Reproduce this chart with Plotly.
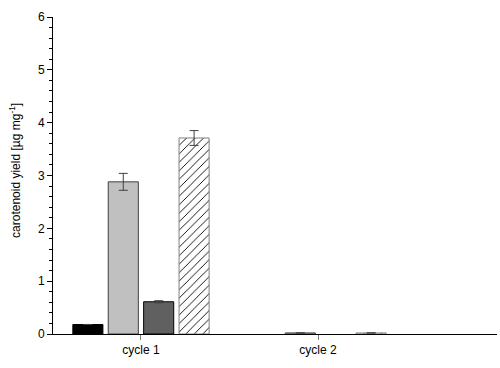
import plotly.graph_objects as go

categories = ["cycle 1", "cycle 2"]
values_a = [0.18, None]
values_b = [2.88, 0.02]
values_c = [0.61, None]
values_d = [3.71, 0.02]
err_a = [0.0, 0.0]
err_b = [0.16, 0.0]
err_c = [0.02, 0.0]
err_d = [0.14, 0.0]
y_ticks = [0, 1, 2, 3, 4, 5, 6]
y_title = "carotenoid yield [µg mg<sup>-1</sup>]"

xpos = list(range(len(categories)))

fig = go.Figure()

def add(vals, errs, fill, line, pattern=None):
    marker = dict(color=fill, line=dict(color=line, width=1))
    if pattern:
        marker["pattern"] = pattern
    fig.add_trace(go.Bar(
        x=xpos, y=vals, marker=marker,
        error_y=dict(type="data", array=errs, visible=True, color="#404040",
                     thickness=1, width=4.5),
        showlegend=False,
    ))

add(values_a, err_a, "#000000", "#000000")
add(values_b, err_b, "#c0c0c0", "#404040")
add(values_c, err_c, "#606060", "#000000")
add(values_d, err_d, "#ffffff", "#808080",
    pattern=dict(shape="/", fgcolor="#000000", bgcolor="#ffffff", fgopacity=1,
                 size=6, solidity=0.15))

fig.add_annotation(
    text=y_title, textangle=-90, xref="paper", yref="paper",
    x=-0.086, y=0.517, xanchor="center", yanchor="middle", showarrow=False,
    font=dict(size=12),
)

fig.update_layout(
    width=500, height=368,
    margin=dict(l=53, r=3, t=17, b=34),
    paper_bgcolor="white", plot_bgcolor="white",
    barmode="group", bargap=0.2, bargroupgap=0.15,
    font=dict(family="Liberation Sans, Arial, sans-serif", size=12, color="#000000"),
    xaxis=dict(
        range=[-0.497, 2.011], tickvals=xpos, ticktext=categories,
        showline=True, linecolor="#000000", linewidth=1,
        ticks="outside", ticklen=5, tickcolor="#808080", tickwidth=1,
        showgrid=False, zeroline=False, automargin=False,
    ),
    yaxis=dict(
        range=[0, 6], tickvals=y_ticks,
        showline=True, linecolor="#000000", linewidth=1,
        ticks="outside", ticklen=5, tickcolor="#000000", tickwidth=1,
        minor=dict(dtick=0.2, ticks="outside", ticklen=3, tickcolor="#000000", showgrid=False),
        showgrid=False, zeroline=False, automargin=False,
    ),
)

fig.write_html("out.html", config={"displayModeBar": False},
               post_script="document.body.style.margin='0';")
